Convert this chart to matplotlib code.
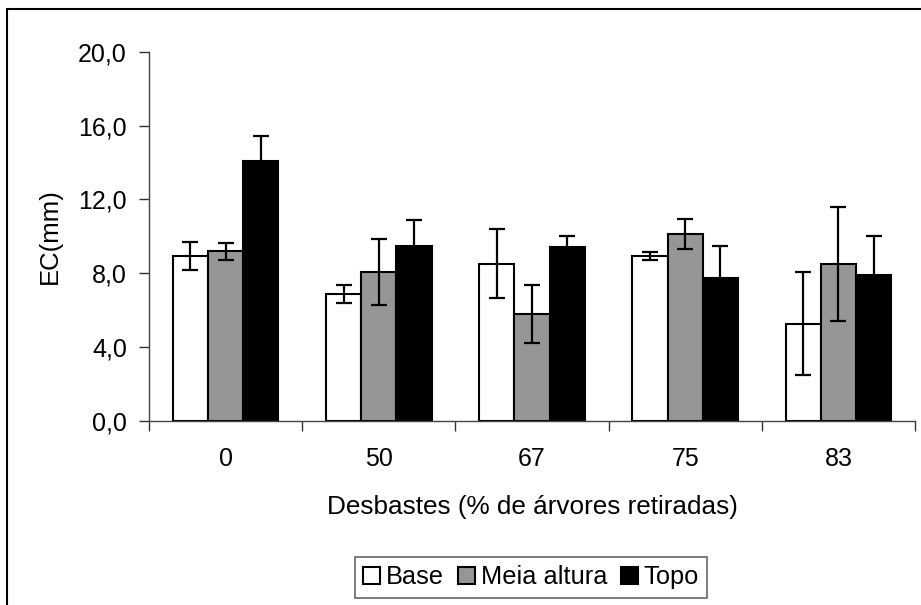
import numpy as np
import matplotlib
matplotlib.use('Agg')
import matplotlib.pyplot as plt
from matplotlib.patches import Rectangle

plt.rcParams['font.family'] = ['Liberation Sans', 'DejaVu Sans']

categories = ['0', '50', '67', '75', '83']
series = ['Base', 'Meia altura', 'Topo']

base = [8.95, 6.89, 8.52, 8.95, 5.27]
base_err = [0.76, 0.48, 1.88, 0.22, 2.80]
meia = [9.19, 8.08, 5.79, 10.14, 8.52]
meia_err = [0.45, 1.80, 1.55, 0.80, 3.08]
topo = [14.08, 9.49, 9.40, 7.76, 7.90]
topo_err = [1.37, 1.40, 0.63, 1.70, 2.10]

colors = ['white', '#969696', 'black']
fs = 18

fig = plt.figure(figsize=(9.21, 6.05), dpi=100)
ax = fig.add_axes([0.1618, 0.3041, 0.8317, 0.6104])

x = np.arange(len(categories))
w = 0.23
values = [base, meia, topo]
errs = [base_err, meia_err, topo_err]
for i in range(3):
    ax.bar(x + (i - 1) * w, values[i], w, color=colors[i], edgecolor='black',
           linewidth=1.5, label=series[i], zorder=2)
    ax.errorbar(x + (i - 1) * w, values[i], yerr=errs[i], fmt='none',
                ecolor='black', elinewidth=1.6, capsize=6, capthick=1.6, zorder=3)

ax.set_xlim(-0.5, len(categories) - 0.5)
ax.set_ylim(0, 20)
ax.set_yticks(np.arange(0, 20.1, 4))
ax.set_yticklabels([f'{v:.1f}'.replace('.', ',') for v in np.arange(0, 20.1, 4)])
ax.set_xticks(x)
ax.set_xticklabels(categories)
ax.set_xticks(np.arange(-0.5, len(categories)), minor=True)
ax.tick_params(axis='x', which='major', length=0, pad=19, labelsize=fs)
ax.tick_params(axis='x', which='minor', length=7, width=1, color='#333333')
ax.tick_params(axis='y', length=7, width=1, color='#333333', pad=9, labelsize=fs)

for s in ['top', 'right']:
    ax.spines[s].set_visible(False)
for s in ['left', 'bottom']:
    ax.spines[s].set_color('#444444')
    ax.spines[s].set_linewidth(1)

ax.set_ylabel('EC(mm)', fontsize=18.5, labelpad=12)
ax.set_xlabel('Desbastes (% de árvores retiradas)', fontsize=18.8, labelpad=17)

leg = fig.legend(loc='center', bbox_to_anchor=(0.5765, 0.0455), ncol=3,
                 fontsize=18.3, handlelength=0.68, handleheight=0.68,
                 handletextpad=0.22, columnspacing=0.55, borderpad=0.32,
                 borderaxespad=0.3, fancybox=False, edgecolor='#666666',
                 framealpha=1)
leg.get_frame().set_linewidth(1.2)

fig.add_artist(Rectangle((0.008, -0.1), 1.2, 0.1 + 0.985, transform=fig.transFigure,
                         fill=False, edgecolor='black', linewidth=1.5))

fig.savefig('out.png', dpi=100)
